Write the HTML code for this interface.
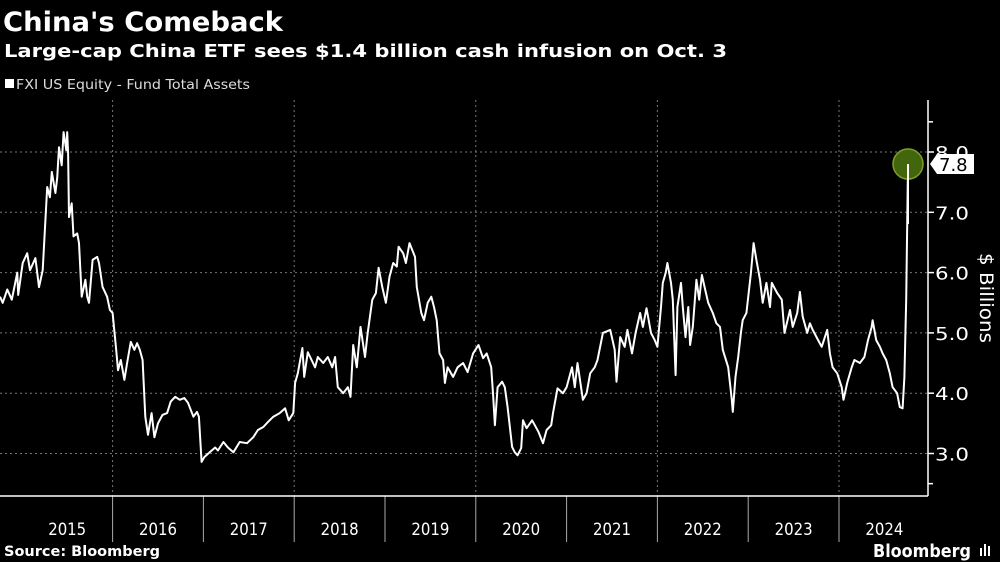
<!DOCTYPE html>
<html><head><meta charset="utf-8">
<style>
html,body{margin:0;padding:0;background:#000;width:1000px;height:562px;overflow:hidden}
svg{display:block}
text{font-family:"DejaVu Sans","Liberation Sans",sans-serif}
</style></head>
<body>
<svg id="chart" width="1000" height="562" viewBox="0 0 1000 562">
<text x="3" y="31" fill="#fff" font-size="27" font-weight="bold" textLength="280" lengthAdjust="spacingAndGlyphs">China's Comeback</text>
<text x="4" y="57" fill="#fff" font-size="18" font-weight="bold" textLength="723" lengthAdjust="spacingAndGlyphs">Large-cap China ETF sees $1.4 billion cash infusion on Oct. 3</text>
<g>
<rect x="5" y="79" width="9" height="9" fill="#fff"></rect>
<text x="16" y="89" fill="#ddd" font-size="13" textLength="234" lengthAdjust="spacingAndGlyphs">FXI US Equity - Fund Total Assets</text>
</g>
<g id="grid"></g>
<g id="axes"></g>
<path id="line" fill="none" stroke="#fff" stroke-width="2" stroke-linejoin="round"></path>
<g id="marker"></g>
<text transform="translate(980,298) rotate(90)" fill="#fff" font-size="19" text-anchor="middle" textLength="90" lengthAdjust="spacingAndGlyphs">$ Billions</text>
<text x="4" y="556" fill="#fff" font-size="14" font-weight="bold" textLength="156" lengthAdjust="spacingAndGlyphs">Source: Bloomberg</text>
<text x="873" y="557" fill="#fff" font-size="18" font-weight="bold" textLength="98" lengthAdjust="spacingAndGlyphs">Bloomberg</text>
<g><rect x="980" y="548" width="2" height="8" fill="#fff"></rect><rect x="984" y="544" width="2" height="12" fill="#fff"></rect><rect x="988" y="546" width="2" height="10" fill="#fff"></rect></g>
</svg>
<script>
const dates=[2014.76,2014.79,2014.84,2014.89,2014.95,2014.96,2015.01,2015.06,2015.09,2015.15,2015.19,2015.23,2015.28,2015.31,2015.33,2015.37,2015.39,2015.41,2015.44,2015.46,2015.49,2015.50,2015.51,2015.52,2015.55,2015.57,2015.61,2015.63,2015.66,2015.70,2015.72,2015.74,2015.78,2015.83,2015.85,2015.89,2015.94,2015.97,2016.00,2016.04,2016.06,2016.09,2016.13,2016.16,2016.20,2016.24,2016.27,2016.30,2016.33,2016.36,2016.39,2016.43,2016.46,2016.50,2016.55,2016.60,2016.64,2016.69,2016.74,2016.79,2016.83,2016.89,2016.93,2016.95,2016.98,2017.01,2017.07,2017.13,2017.16,2017.22,2017.27,2017.33,2017.40,2017.48,2017.55,2017.60,2017.66,2017.71,2017.77,2017.84,2017.90,2017.94,2017.99,2018.01,2018.04,2018.09,2018.11,2018.15,2018.23,2018.26,2018.32,2018.37,2018.42,2018.45,2018.48,2018.54,2018.59,2018.62,2018.65,2018.69,2018.73,2018.78,2018.81,2018.86,2018.90,2018.93,2018.97,2019.01,2019.05,2019.09,2019.13,2019.15,2019.20,2019.23,2019.27,2019.33,2019.35,2019.40,2019.43,2019.47,2019.51,2019.54,2019.57,2019.60,2019.64,2019.66,2019.69,2019.75,2019.80,2019.86,2019.91,2019.97,2020.03,2020.08,2020.12,2020.17,2020.19,2020.21,2020.24,2020.29,2020.32,2020.35,2020.40,2020.43,2020.46,2020.50,2020.52,2020.56,2020.62,2020.65,2020.69,2020.74,2020.78,2020.83,2020.85,2020.90,2020.96,2021.00,2021.06,2021.09,2021.12,2021.18,2021.22,2021.26,2021.31,2021.34,2021.40,2021.48,2021.53,2021.55,2021.59,2021.64,2021.67,2021.72,2021.76,2021.81,2021.84,2021.88,2021.93,2021.97,2022.00,2022.04,2022.06,2022.09,2022.11,2022.15,2022.17,2022.20,2022.22,2022.26,2022.28,2022.31,2022.34,2022.36,2022.39,2022.43,2022.46,2022.49,2022.52,2022.56,2022.61,2022.65,2022.69,2022.72,2022.78,2022.82,2022.83,2022.86,2022.89,2022.92,2022.94,2022.98,2023.03,2023.06,2023.09,2023.13,2023.16,2023.20,2023.24,2023.26,2023.32,2023.37,2023.40,2023.46,2023.49,2023.54,2023.57,2023.60,2023.65,2023.68,2023.71,2023.77,2023.81,2023.87,2023.90,2023.93,2023.98,2024.03,2024.05,2024.09,2024.14,2024.17,2024.23,2024.28,2024.32,2024.36,2024.37,2024.41,2024.45,2024.48,2024.52,2024.56,2024.59,2024.64,2024.67,2024.70,2024.72,2024.74,2024.76];
const values=[5.6,5.5,5.72,5.55,6.0,5.63,6.16,6.32,6.04,6.24,5.76,6.04,7.42,7.25,7.67,7.32,7.57,8.08,7.78,8.33,8.03,8.33,7.98,6.92,7.15,6.6,6.65,6.49,5.6,5.88,5.6,5.5,6.21,6.26,6.16,5.76,5.6,5.38,5.33,4.72,4.38,4.55,4.22,4.5,4.85,4.72,4.83,4.72,4.55,3.61,3.31,3.67,3.27,3.5,3.64,3.67,3.86,3.94,3.89,3.92,3.84,3.61,3.69,3.61,2.86,2.94,3.02,3.1,3.05,3.19,3.1,3.02,3.19,3.17,3.27,3.39,3.44,3.52,3.61,3.67,3.75,3.55,3.67,4.17,4.33,4.75,4.27,4.68,4.43,4.6,4.5,4.6,4.43,4.6,4.1,4.0,4.1,3.94,4.8,4.43,5.1,4.6,5.0,5.55,5.66,6.08,5.76,5.5,5.93,6.16,6.1,6.43,6.32,6.16,6.49,6.26,5.76,5.33,5.21,5.5,5.6,5.43,5.21,4.66,4.55,4.17,4.43,4.27,4.43,4.5,4.35,4.66,4.8,4.58,4.66,4.43,4.0,3.47,4.1,4.19,4.1,3.77,3.11,3.02,2.97,3.09,3.55,3.42,3.55,3.47,3.36,3.17,3.39,3.47,3.67,4.08,4.0,4.1,4.43,4.1,4.5,3.89,4.0,4.33,4.43,4.55,5.0,5.05,4.72,4.19,4.93,4.77,5.05,4.66,5.0,5.33,5.1,5.41,5.0,4.88,4.77,5.43,5.83,5.99,6.16,5.83,5.55,4.3,5.43,5.83,5.43,4.93,5.43,4.8,5.1,5.88,5.55,5.96,5.76,5.5,5.33,5.16,5.1,4.72,4.43,3.89,3.69,4.27,4.6,5.0,5.21,5.33,5.99,6.49,6.21,5.88,5.5,5.83,5.43,5.83,5.66,5.55,5.0,5.38,5.1,5.33,5.68,5.27,5.0,5.16,5.05,4.88,4.77,5.05,4.66,4.43,4.33,4.1,3.89,4.17,4.43,4.55,4.5,4.6,4.88,5.1,5.21,4.88,4.77,4.66,4.55,4.33,4.1,4.0,3.77,3.75,4.27,5.55,7.8];
const yTicks=[3.0,4.0,5.0,6.0,7.0,8.0];
const years=[2015,2016,2017,2018,2019,2020,2021,2022,2023,2024];
const lastLabel="7.8";

const NS="http://www.w3.org/2000/svg";
const X0=2014.76, PX=90.8, AXR=928, AXB=496, TOP=100;
const xs=d=>(d-X0)*PX;
const ys=v=>152+(8-v)*60.3;
function mk(tag,attrs,parent){const e=document.createElementNS(NS,tag);for(const k in attrs)e.setAttribute(k,attrs[k]);parent.appendChild(e);return e;}
const grid=document.getElementById('grid'), axes=document.getElementById('axes');
yTicks.forEach(t=>{
  const g=mk('line',{x1:0,x2:AXR,y1:ys(t),y2:ys(t),stroke:'#777','stroke-width':1,'stroke-dasharray':'2,3'},grid);
  
  
  const tk=mk('line',{x1:AXR,x2:AXR+6,y1:ys(t),y2:ys(t),stroke:'#fff','stroke-width':1.5},axes);
  
  
  const lb=mk('text',{x:AXR+7,y:ys(t)+7,fill:'#fff','font-size':18,textLength:34,lengthAdjust:'spacingAndGlyphs'},axes);
  lb.textContent=t.toFixed(1);
  
  
});
[2.5,8.5].forEach(t=>{const tk=mk('line',{x1:AXR,x2:AXR+5,y1:ys(t),y2:ys(t),stroke:'#fff','stroke-width':1.5},axes);
  
  });
years.forEach((y,i)=>{
  const x=xs(y);
  if(i>0){
    const s=mk('line',{x1:x,x2:x,y1:AXB,y2:542,stroke:'#aaa','stroke-width':1},axes);
    
    
    if(i%2===1){const g=mk('line',{x1:x,x2:x,y1:TOP,y2:AXB,stroke:'#777','stroke-width':1,'stroke-dasharray':'2,3'},grid);
      
      }
  }
  const lb=mk('text',{x:xs(y+0.5),y:535,fill:'#fff','font-size':17,'text-anchor':'middle',textLength:38,lengthAdjust:'spacingAndGlyphs'},axes);
  lb.textContent=y;
  
  
});
const ya=mk('line',{x1:AXR,x2:AXR,y1:TOP,y2:AXB,stroke:'#fff','stroke-width':1.5},axes);


const xa=mk('line',{x1:0,x2:AXR,y1:AXB,y2:AXB,stroke:'#fff','stroke-width':1.5},axes);


document.getElementById('line').setAttribute('d',dates.map((d,i)=>(i?'L':'M')+xs(d).toFixed(1)+','+ys(values[i]).toFixed(1)).join(''));
const m=document.getElementById('marker');
const lx=xs(dates[dates.length-1]), ly=ys(values[values.length-1]);
const c=mk('circle',{cx:lx,cy:ly,r:15,fill:'#456b0c',stroke:'#7f9c2c','stroke-width':1.5,'fill-opacity':0.95},m);


mk('line',{x1:lx,x2:lx,y1:ly,y2:ly+60,stroke:'#fff','stroke-width':2},m);
const tag=mk('path',{d:`M${AXR+2},${ly} L${AXR+9},${ly-10} H${AXR+46} V${ly+10} H${AXR+9} Z`,fill:'#fff'},m);


const tt=mk('text',{x:AXR+11,y:ly+7,fill:'#000','font-size':18},m);
tt.textContent=lastLabel;


</script>
</body></html>
